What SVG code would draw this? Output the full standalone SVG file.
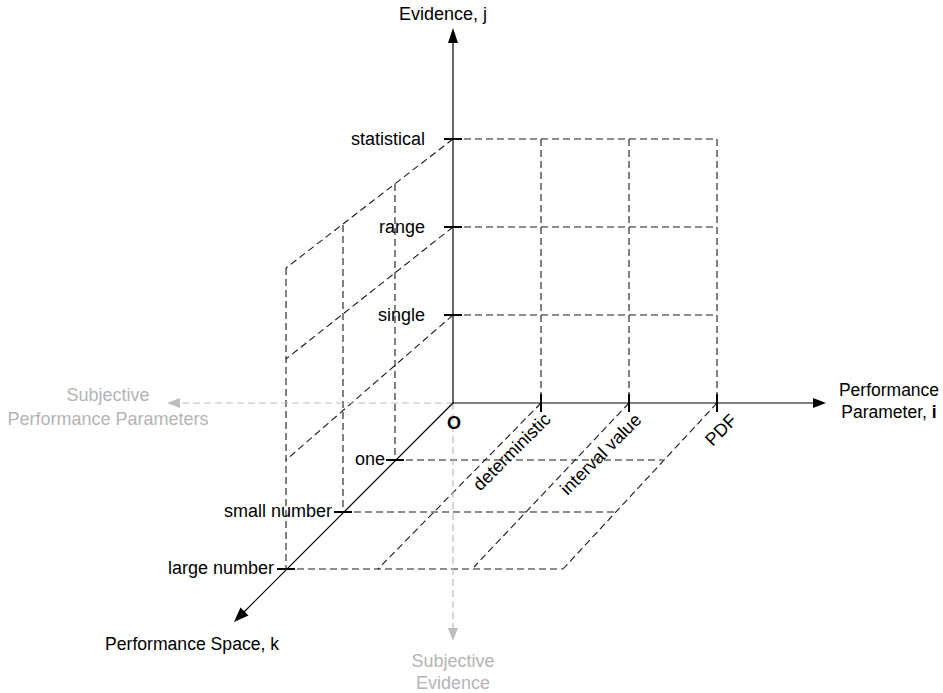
<svg xmlns="http://www.w3.org/2000/svg" width="943" height="693" viewBox="0 0 943 693">
<defs>
<style>
text{font-family:"Liberation Sans",Arial,sans-serif;font-size:18px;fill:#000}
.grey{fill:#b4b4b4}
.dash{fill:none;stroke:#1a1a1a;stroke-width:1.1;stroke-dasharray:7 4}
.gdash{fill:none;stroke:#bdbdbd;stroke-width:1.2;stroke-dasharray:7 4}
.axis{fill:none;stroke:#000;stroke-width:1.2}
.tick{fill:none;stroke:#000;stroke-width:2}
.head{fill:#000}
.ghead{fill:#bdbdbd}
</style>
</defs>
<rect width="943" height="693" fill="#fff"/>

<g id="connectors">
<g id="grid-ij">
<path class="dash" d="M453,139H717M453,227H717M453,315H717"/>
<path class="dash" d="M541,139V403M629,139V403M717,139V403"/>
</g>
<g id="grid-jk">
<path class="dash" d="M453,139L286,268M453,227L286,359M453,315L286,460"/>
<path class="dash" d="M395,184V460M343,225V512M286,268V569"/>
</g>
<g id="grid-ik">
<path class="dash" d="M395,460H663M343,512H615M286,569H563"/>
<path class="dash" d="M541,403L378,569M629,403L474,567M717,403L563,569"/>
</g>
<g id="subjective-axes">
<path class="gdash" d="M453,403H179"/>
<polygon class="ghead" points="167,403 180,398 180,408"/>
<path class="gdash" d="M453,403V628"/>
<polygon class="ghead" points="453,641 448,628 458,628"/>
</g>
<g id="axes">
<path class="axis" d="M453,403V42" stroke="#444"/>
<polygon class="head" points="453,28 448,43 458,43"/>
<path class="axis" d="M453,403H813"/>
<polygon class="head" points="826,403 813,398 813,408"/>
<path class="axis" d="M453,403L244,612"/>
<polygon class="head" points="234,622 240.5,607.5 248.5,615.5"/>
</g>
<g id="ticks">
<path class="tick" d="M444,139H462M444,227H462M444,315H462"/>
<path class="tick" d="M541,394V412M629,394V412M717,394V412"/>
<path class="tick" d="M386,460H404M334,512H352M277,569H295"/>
</g>
</g>

<g id="node-evidence-axis"><text x="399" y="20">Evidence, j</text></g>
<g id="node-statistical"><text x="425" y="145" text-anchor="end">statistical</text></g>
<g id="node-range"><text x="425" y="233" text-anchor="end">range</text></g>
<g id="node-single"><text x="425" y="321" text-anchor="end">single</text></g>
<g id="node-origin"><text x="454" y="429" text-anchor="middle" font-weight="bold">O</text></g>
<g id="node-performance-parameter"><text x="889" text-anchor="middle" style="font-size:17.5px"><tspan x="889" y="396">Performance</tspan><tspan x="889" y="418">Parameter, <tspan font-weight="bold">i</tspan></tspan></text></g>
<g id="node-subjective-pp"><text class="grey" text-anchor="middle"><tspan x="108" y="401">Subjective</tspan><tspan x="108" y="425">Performance Parameters</tspan></text></g>
<g id="node-one"><text x="385" y="465" text-anchor="end">one</text></g>
<g id="node-small-number"><text x="332" y="517" text-anchor="end">small number</text></g>
<g id="node-large-number"><text x="274" y="574" text-anchor="end">large number</text></g>
<g id="node-deterministic"><text transform="translate(512.5,452.5) rotate(-45)" x="0" y="5" text-anchor="middle">deterministic</text></g>
<g id="node-interval-value"><text transform="translate(601.5,455) rotate(-45)" x="0" y="5" text-anchor="middle">interval value</text></g>
<g id="node-pdf"><text transform="translate(721,430) rotate(-45)" x="0" y="6" text-anchor="middle">PDF</text></g>
<g id="node-performance-space"><text x="105" y="650" style="font-size:17.6px">Performance Space, k</text></g>
<g id="node-subjective-evidence"><text class="grey" text-anchor="middle"><tspan x="453" y="667">Subjective</tspan><tspan x="453" y="689">Evidence</tspan></text></g>
</svg>
